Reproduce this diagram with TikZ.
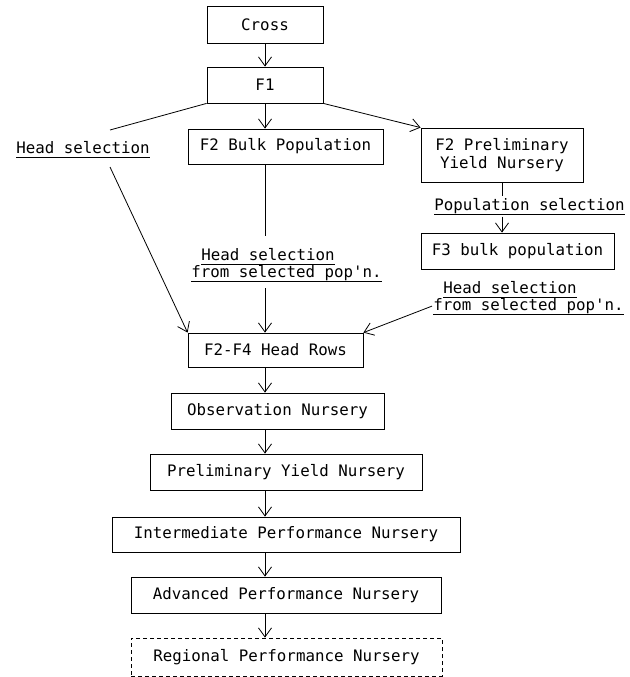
\documentclass[tikz,border=0pt]{standalone}
\usepackage{fontspec}
\setmonofont{DejaVu Sans Mono}
\usetikzlibrary{arrows.meta}
\newsavebox\labbox
\newcommand{\labline}[1]{\sbox\labbox{#1}\rlap{\rule[-4.3pt]{\wd\labbox}{0.8pt}}\usebox\labbox}

\begin{document}
\begin{tikzpicture}[x=1pt,y=-1pt,line width=0.8pt,
  font=\ttfamily\fontsize{15.8pt}{18pt}\selectfont,
  >={Straight Barb[length=9pt,width=13pt]},
  box/.style={draw,inner sep=0pt,minimum height=36pt},
  lab/.style={anchor=base west,inner sep=1pt}]
\useasboundingbox (0,0) rectangle (629,677);
\node[box,minimum width=116pt,minimum height=37pt] (cross) at (265,24.5) {Cross};
\node[box,minimum width=116pt] (fone) at (265,85) {F1};
\node[box,minimum width=195pt,minimum height=35pt] (bulk) at (285.5,146.5) {F2 Bulk Population};
\node[box,minimum width=162pt,minimum height=54pt,align=center] (prelim) at (502,155) {F2 Preliminary\\Yield Nursery};
\node[box,minimum width=193pt] (fthree) at (517.5,251) {F3 bulk population};
\node[box,minimum width=175pt,minimum height=34pt] (rows) at (275.5,350) {F2-F4 Head Rows};
\node[box,minimum width=213pt] (obs) at (277.5,411) {Observation Nursery};
\node[box,minimum width=272pt] (pyn) at (286,472) {Preliminary Yield Nursery};
\node[box,minimum width=348pt,minimum height=35pt] (ipn) at (286,534.5) {Intermediate Performance Nursery};
\node[box,minimum width=310pt] (apn) at (286,595) {Advanced Performance Nursery};
\node[box,minimum width=311pt,minimum height=38pt,dash pattern=on 4pt off 3pt] (rpn) at (286.5,657) {Regional Performance Nursery};
\node[lab] (headsel) at (15,153) {\labline{Head selection}};
\node[lab,inner sep=2pt] (popsel) at (432,210) {\labline{Population selection}};
\node[lab] (midone) at (200,260) {\labline{Head selection}};
\node[lab] (midtwo) at (190,277) {\labline{from selected pop'n.}};
\node[lab] (rightone) at (442,293) {\labline{Head selection}};
\node[lab] (righttwo) at (432,310) {\labline{from selected pop'n.}};
\coordinate (hsto) at (110,130);
\coordinate (hsfrom) at (110,167);
\coordinate (mstop) at (265,236);
\coordinate (mstart) at (265,288);
\draw (fone.south west) -- (hsto);
\draw[->] (fone.south) -- (fone.south |- bulk.north);
\draw[->] (fone.south east) -- (prelim.north west);
\draw (prelim.south) -- (prelim.south |- popsel.north);
\draw[->] (popsel.south -| prelim.south) -- (prelim.south |- fthree.north);
\draw (bulk.south -| fone.south) -- (mstop);
\draw[->] (mstart) -- (rows.north -| fone.south);
\draw[->] (hsfrom) -- (rows.north west);
\draw[->] (righttwo.west) -- (rows.north east);
\foreach \a/\b in {cross/fone,rows/obs,obs/pyn,pyn/ipn,ipn/apn,apn/rpn}
  \draw[->] (\a.south -| cross.south) -- (\b.north -| cross.south);
\end{tikzpicture}
\end{document}
